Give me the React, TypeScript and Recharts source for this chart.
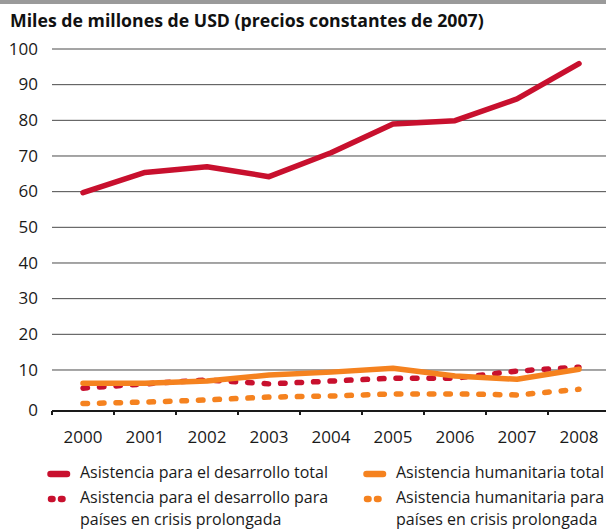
import React from 'react';
import { LineChart, Line, XAxis, YAxis, ReferenceLine } from 'recharts';

const FONT = '"Open Sans", "Noto Sans", sans-serif';

const title = 'Miles de millones de USD (precios constantes de 2007)';
const years = ['2000', '2001', '2002', '2003', '2004', '2005', '2006', '2007', '2008'];
const devTotal = [59.7, 65.4, 67.0, 64.2, 70.9, 79.0, 79.9, 86.0, 95.9];
const humTotal = [6.3, 6.3, 6.9, 8.6, 9.4, 10.5, 8.3, 7.4, 10.2];
const devCrisis = [4.9, 6.1, 7.2, 6.1, 6.9, 7.7, 7.7, 9.7, 10.8];
const humCrisis = [0.6, 1.0, 1.6, 2.4, 2.7, 3.3, 3.3, 3.0, 4.6];
const yTicks = [0, 10, 20, 30, 40, 50, 60, 70, 80, 90, 100];
const gridValues = [10, 20, 30, 40, 50, 60, 70, 80, 90, 100];

const RED = '#c8102e';
const ORANGE = '#f5821f';

const series = [
  { key: 'devTotal', color: RED, dotted: false, label: ['Asistencia para el desarrollo total'] },
  { key: 'humTotal', color: ORANGE, dotted: false, label: ['Asistencia humanitaria total'] },
  { key: 'devCrisis', color: RED, dotted: true, label: ['Asistencia para el desarrollo para', 'países en crisis prolongada'] },
  { key: 'humCrisis', color: ORANGE, dotted: true, label: ['Asistencia humanitaria para', 'países en crisis prolongada'] },
];

const data = years.map((year, i) => ({
  year,
  devTotal: devTotal[i],
  humTotal: humTotal[i],
  devCrisis: devCrisis[i],
  humCrisis: humCrisis[i],
}));

const XTick = (props: any) => {
  const { x, y, payload } = props;
  const half = payload && typeof payload.offset === 'number' && payload.offset > 0 ? payload.offset : 31;
  return (
    <g>
      <line x1={x - half} x2={x - half} y1={y} y2={y + 4} stroke="#1a1a1a" strokeWidth={2} />
      <text x={x} y={y + 31.7} textAnchor="middle" fontSize={17} fontFamily={FONT} fill="#1a1a1a">
        {payload.value}
      </text>
    </g>
  );
};

const YTick = (props: any) => {
  const { x, y, payload } = props;
  const dy = payload.value === 0 ? 10.4 : 5.7;
  return (
    <text x={x} y={y + dy} textAnchor="end" fontSize={17} fontFamily={FONT} fill="#1a1a1a">
      {payload.value}
    </text>
  );
};

const LegendSymbol = ({ color, dotted }: { color: string; dotted: boolean }) => (
  <svg width={26} height={10} style={{ position: 'absolute', left: 0, top: 7 }}>
    {dotted ? (
      <line x1={4} x2={22} y1={5} y2={5} stroke={color} strokeWidth={6.5} strokeLinecap="round" strokeDasharray="1.5 8.5" />
    ) : (
      <line x1={3.5} x2={20} y1={5} y2={5} stroke={color} strokeWidth={6.5} strokeLinecap="round" />
    )}
  </svg>
);

const legendPos = [
  { left: 47, top: 462 },
  { left: 363, top: 462 },
  { left: 47, top: 487 },
  { left: 363, top: 487 },
];

export default function App() {
  return (
    <div style={{ position: 'absolute', left: 0, top: 0, width: 606, height: 530, overflow: 'hidden', background: '#fff' }}>
      <div style={{ position: 'absolute', left: 0, top: 0, width: 606, height: 3.5, background: '#9a9a9a' }} />
      <div
        style={{
          position: 'absolute',
          left: 10,
          top: 12,
          fontFamily: FONT,
          fontWeight: 700,
          fontSize: 17.7,
          lineHeight: '17.7px',
          color: '#111',
          whiteSpace: 'nowrap',
        }}
      >
        {title}
      </div>
      <div style={{ position: 'absolute', left: 0, top: 0 }}>
        <LineChart width={614} height={530} data={data} margin={{ top: 49, right: 4, left: 0, bottom: 89 }}>
          <XAxis
            dataKey="year"
            scale="band"
            height={30}
            axisLine={{ stroke: '#1a1a1a', strokeWidth: 2 }}
            tickLine={false}
            tickSize={0}
            tickMargin={0}
            tick={<XTick />}
            interval={0}
          />
          <YAxis
            width={52}
            domain={[-1.5, 100]}
            ticks={yTicks}
            axisLine={false}
            tickLine={false}
            tickSize={0}
            tickMargin={14}
            tick={<YTick />}
            interval={0}
          />
          {gridValues.map((v) => (
            <ReferenceLine key={v} y={v} stroke="#4a4a4a" strokeWidth={1} />
          ))}
          <Line type="linear" dataKey="devCrisis" stroke={RED} strokeWidth={5.5} strokeLinecap="round" strokeDasharray="4.5 12" dot={false} activeDot={false} isAnimationActive={false} />
          <Line type="linear" dataKey="humCrisis" stroke={ORANGE} strokeWidth={5.5} strokeLinecap="round" strokeDasharray="4.5 12" dot={false} activeDot={false} isAnimationActive={false} />
          <Line type="linear" dataKey="humTotal" stroke={ORANGE} strokeWidth={5.5} strokeLinecap="round" strokeLinejoin="round" dot={false} activeDot={false} isAnimationActive={false} />
          <Line type="linear" dataKey="devTotal" stroke={RED} strokeWidth={5.5} strokeLinecap="round" strokeLinejoin="round" dot={false} activeDot={false} isAnimationActive={false} />
        </LineChart>
      </div>
      {series.map((s, i) => (
        <div
          key={s.key}
          style={{
            position: 'absolute',
            left: legendPos[i].left,
            top: legendPos[i].top,
            fontFamily: FONT,
            fontSize: 16,
            lineHeight: '21.5px',
            color: '#1a1a1a',
            whiteSpace: 'nowrap',
          }}
        >
          <LegendSymbol color={s.color} dotted={s.dotted} />
          <div style={{ marginLeft: 33 }}>
            {s.label.map((l, j) => (
              <div key={j}>{l}</div>
            ))}
          </div>
        </div>
      ))}
    </div>
  );
}
